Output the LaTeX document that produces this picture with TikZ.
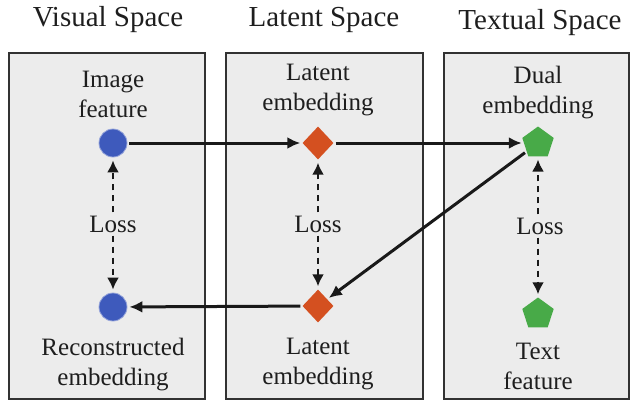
\documentclass[tikz,border=0pt]{standalone}
\usepackage{fontspec}
\setmainfont{Liberation Serif}
\newfontfamily\figfont{Liberation Serif}
\usetikzlibrary{shapes.geometric, arrows.meta, positioning}
\definecolor{boxgray}{RGB}{236,236,236}
\definecolor{boxline}{RGB}{50,50,50}
\definecolor{inkgray}{RGB}{30,30,30}
\definecolor{dotblue}{RGB}{62,90,188}
\definecolor{dotorange}{RGB}{212,80,32}
\definecolor{dotgreen}{RGB}{72,170,72}
\tikzstyle{space} = [rectangle, draw=boxline, fill=boxgray, line width=1.8pt, minimum height=346pt, anchor=north west, inner sep=0pt]
\tikzstyle{title} = [text=inkgray, font=\figfont\fontsize{29}{34}\selectfont]
\tikzstyle{note} = [align=center, text=inkgray, font=\figfont\fontsize{25}{30}\selectfont, inner sep=2pt]
\tikzstyle{visual} = [circle, fill=dotblue, draw=dotblue!55, line width=0.8pt, minimum size=28pt, inner sep=0pt]
\tikzstyle{latent} = [diamond, fill=dotorange, minimum width=31pt, minimum height=33pt, inner sep=0pt]
\tikzstyle{textual} = [regular polygon, regular polygon sides=5, fill=dotgreen, minimum size=33pt, inner sep=0pt]
\tikzstyle{arrow} = [line width=3pt, draw=black!90, -{Latex[length=13pt,width=12pt]}, shorten >=2pt, shorten <=2pt]
\tikzstyle{lossarrow} = [line width=2.2pt, draw=black!90, dash pattern=on 6pt off 5pt, -{Latex[length=12pt,width=12pt]}, shorten >=3pt, shorten <=1pt]

\begin{document}
\begin{tikzpicture}[x=1pt, y=-1pt, node distance=52pt]
    \useasboundingbox (0,0) rectangle (635,400);
    % the three spaces
    \node (visbox) [space, minimum width=196pt] at (8,52) {};
    \node (latbox) [space, minimum width=197pt] at (225,52) {};
    \node (txtbox) [space, minimum width=185pt] at (443,52) {};
    \node (vistitle) [title] at (108,20) {Visual Space};
    \node (lattitle) [title] at (324,20) {Latent Space};
    \node (txttitle) [title] at (540,23) {Textual Space};
    % shapes
    \node (imgf) [visual] at (113,143) {};
    \node (recon) [visual] at (113,307) {};
    \node (lattop) [latent] at (318,143) {};
    \node (latbot) [latent] at (318,306) {};
    \node (dual) [textual] at (538,143) {};
    \node (txtf) [textual] at (538,314) {};
    % labels
    \node (imgflabel) [note, above of=imgf, yshift=-3pt] {Image\\feature};
    \node (reconlabel) [note, below of=recon, yshift=-6pt] {Reconstructed\\embedding};
    \node (lattoplabel) [note, above of=lattop, yshift=1pt] {Latent\\embedding};
    \node (latbotlabel) [note, below of=latbot, yshift=-6pt] {Latent\\embedding};
    \node (duallabel) [note, above of=dual, yshift=-2pt] {Dual\\embedding};
    \node (txtflabel) [note, below of=txtf] {Text\\feature};
    \node (visloss) [note] at (113,224) {Loss};
    \node (latloss) [note] at (318,224) {Loss};
    \node (txtloss) [note] at (540,226) {Loss};
    % mappings
    \draw [arrow] (imgf) -- (lattop);
    \draw [arrow] (lattop) -- (dual);
    \draw [arrow] (dual) -- (latbot);
    \draw [arrow] (latbot) -- (recon);
    % losses
    \draw [lossarrow] (visloss) -- (imgf);
    \draw [lossarrow] (visloss) -- (recon);
    \draw [lossarrow] (latloss) -- (lattop);
    \draw [lossarrow] (latloss) -- (latbot);
    \draw [lossarrow] (txtloss.north -| dual) -- (dual);
    \draw [lossarrow] (txtloss.south -| txtf) -- (txtf);
\end{tikzpicture}
\end{document}
